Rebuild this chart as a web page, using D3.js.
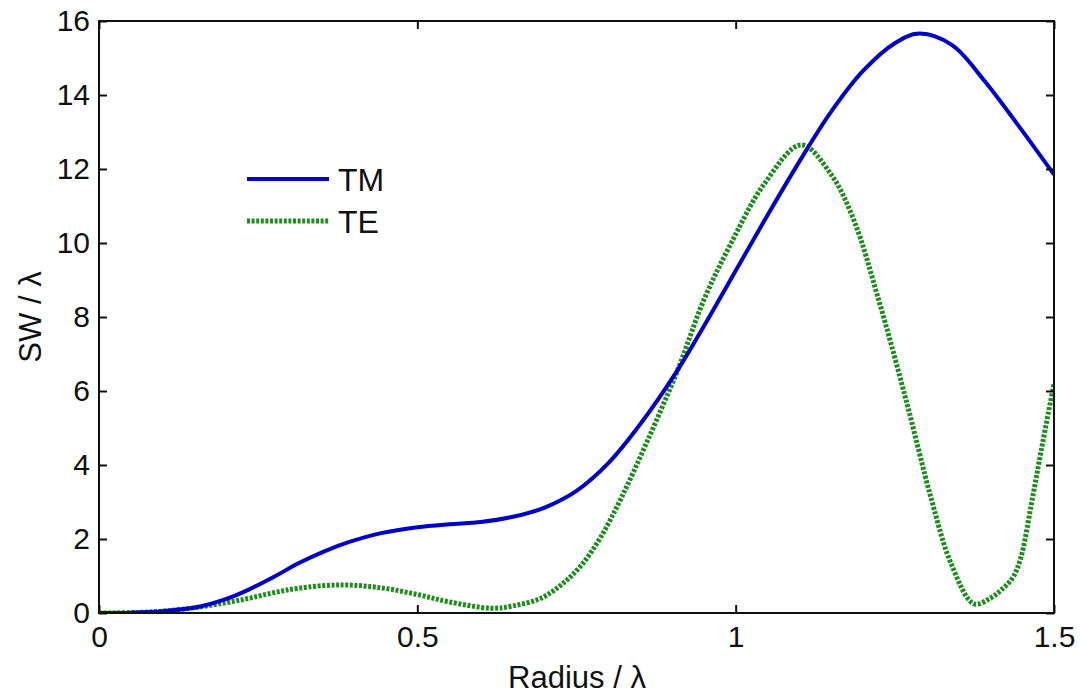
<!DOCTYPE html>
<html>
<head>
<meta charset="utf-8">
<script src="https://cdn.jsdelivr.net/npm/d3@7"></script>
<style>
  html, body { margin: 0; padding: 0; background: #fff; }
  svg { display: block; }
  text { font-family: "Liberation Sans", Arial, Helvetica, sans-serif; fill: #111; }
</style>
</head>
<body>
<svg id="chart" width="1081" height="694"></svg>
<script>
// Normalised radius (in wavelengths) at which each curve is sampled
const radiusTM = [0, 0.05, 0.1, 0.157, 0.2, 0.236, 0.275, 0.314, 0.353, 0.393, 0.443, 0.5, 0.55, 0.6,
  0.65, 0.7, 0.75, 0.8, 0.85, 0.909, 0.95, 1.0, 1.05, 1.1, 1.15, 1.2, 1.25, 1.288, 1.34, 1.39, 1.443, 1.5];
const swTM = [0, 0.01, 0.05, 0.17, 0.38, 0.64, 0.98, 1.35, 1.66, 1.92, 2.16, 2.32, 2.4, 2.46,
  2.6, 2.85, 3.3, 4.05, 5.1, 6.57, 7.75, 9.25, 10.75, 12.2, 13.55, 14.65, 15.4, 15.66, 15.35, 14.4, 13.2, 11.85];

const radiusTE = [0, 0.05, 0.1, 0.157, 0.2, 0.236, 0.275, 0.314, 0.38, 0.443, 0.5, 0.55, 0.616, 0.65,
  0.694, 0.726, 0.757, 0.788, 0.82, 0.86, 0.909, 0.95, 0.993, 1.045, 1.103, 1.15, 1.186, 1.224, 1.267,
  1.307, 1.338, 1.374, 1.4, 1.417, 1.435, 1.448, 1.464, 1.48, 1.5];
const swTE = [0, 0.01, 0.05, 0.16, 0.28, 0.4, 0.55, 0.67, 0.76, 0.68, 0.5, 0.3, 0.13, 0.19,
  0.4, 0.76, 1.28, 2.05, 3.1, 4.6, 6.57, 8.46, 10.0, 11.6, 12.65, 11.85, 10.6, 8.5, 5.8,
  3.1, 1.35, 0.25, 0.4, 0.62, 0.95, 1.5, 2.9, 4.4, 6.2];

const xTicks = [0, 0.5, 1, 1.5];
const xTickLabels = ["0", "0.5", "1", "1.5"];
const yTicks = [0, 2, 4, 6, 8, 10, 12, 14, 16];
const yTickLabels = ["0", "2", "4", "6", "8", "10", "12", "14", "16"];

const seriesNames = ["TM", "TE"];

const svg = d3.select("#chart");
const plotLeft = 99, plotRight = 1054, plotTop = 21, plotBottom = 613;

const x = d3.scaleLinear().domain([0, 1.5]).range([plotLeft, plotRight]);
const y = d3.scaleLinear().domain([0, 16]).range([plotBottom, plotTop]);

// Clip the curves to the plotting box
svg.append("defs").append("clipPath").attr("id", "plotClip")
  .append("rect").attr("x", plotLeft).attr("y", plotTop)
  .attr("width", plotRight - plotLeft).attr("height", plotBottom - plotTop);

const line = d3.line()
  .x(d => x(d[0]))
  .y(d => y(d[1]))
  .curve(d3.curveCatmullRom.alpha(0.5));

const tmData = radiusTM.map((r, i) => [r, swTM[i]]);
const teData = radiusTE.map((r, i) => [r, swTE[i]]);

const plot = svg.append("g").attr("clip-path", "url(#plotClip)");

plot.append("path").datum(teData)
  .attr("d", line)
  .attr("fill", "none")
  .attr("stroke", "#1f8c1f")
  .attr("stroke-width", 5)
  .attr("stroke-dasharray", "3,1.6");

plot.append("path").datum(tmData)
  .attr("d", line)
  .attr("fill", "none")
  .attr("stroke", "#0000cc")
  .attr("stroke-width", 4)
  .attr("stroke-linejoin", "round");

// Axes: inward ticks on all four sides
const tickLen = 8;
const fontSize = 30;

const gBottom = svg.append("g").attr("transform", `translate(0,${plotBottom})`)
  .call(d3.axisBottom(x).tickValues(xTicks).tickFormat((d, i) => xTickLabels[i])
    .tickSizeInner(-tickLen).tickSizeOuter(0).tickPadding(13));
const gTop = svg.append("g").attr("transform", `translate(0,${plotTop})`)
  .call(d3.axisTop(x).tickValues(xTicks).tickFormat("")
    .tickSizeInner(-tickLen).tickSizeOuter(0));
const gLeft = svg.append("g").attr("transform", `translate(${plotLeft},0)`)
  .call(d3.axisLeft(y).tickValues(yTicks).tickFormat((d, i) => yTickLabels[i])
    .tickSizeInner(-tickLen).tickSizeOuter(0).tickPadding(9));
const gRight = svg.append("g").attr("transform", `translate(${plotRight},0)`)
  .call(d3.axisRight(y).tickValues(yTicks).tickFormat("")
    .tickSizeInner(-tickLen).tickSizeOuter(0));

[gBottom, gTop, gLeft, gRight].forEach(g => {
  g.select(".domain").remove();
  g.selectAll(".tick line").attr("stroke", "#111").attr("stroke-width", 2);
  g.selectAll(".tick text")
    .attr("font-family", "Liberation Sans, Arial, sans-serif")
    .attr("font-size", fontSize)
    .attr("fill", "#111");
});

// Box frame
svg.append("rect")
  .attr("x", plotLeft).attr("y", plotTop)
  .attr("width", plotRight - plotLeft).attr("height", plotBottom - plotTop)
  .attr("fill", "none").attr("stroke", "#111").attr("stroke-width", 2);

// Axis titles
svg.append("text")
  .attr("x", (plotLeft + plotRight) / 2 + 0.5).attr("y", 688)
  .attr("text-anchor", "middle")
  .attr("font-size", 31)
  .text("Radius / λ");

svg.append("text")
  .attr("transform", `translate(41,${(plotTop + plotBottom) / 2}) rotate(-90)`)
  .attr("text-anchor", "middle")
  .attr("font-size", 31)
  .text("SW / λ");

// Legend
const legendColors = ["#0000cc", "#1f8c1f"];
const legend = svg.append("g");
seriesNames.forEach((name, i) => {
  const ly = 179 + i * 42;
  const seg = legend.append("line")
    .attr("x1", 247).attr("x2", 329)
    .attr("y1", ly).attr("y2", ly)
    .attr("stroke", legendColors[i]);
  if (i === 0) {
    seg.attr("stroke-width", 4);
  } else {
    seg.attr("stroke-width", 5).attr("stroke-dasharray", "3,1.6");
  }
  legend.append("text")
    .attr("x", 338).attr("y", ly + 12)
    .attr("font-size", 32)
    .text(name);
});
</script>
</body>
</html>
